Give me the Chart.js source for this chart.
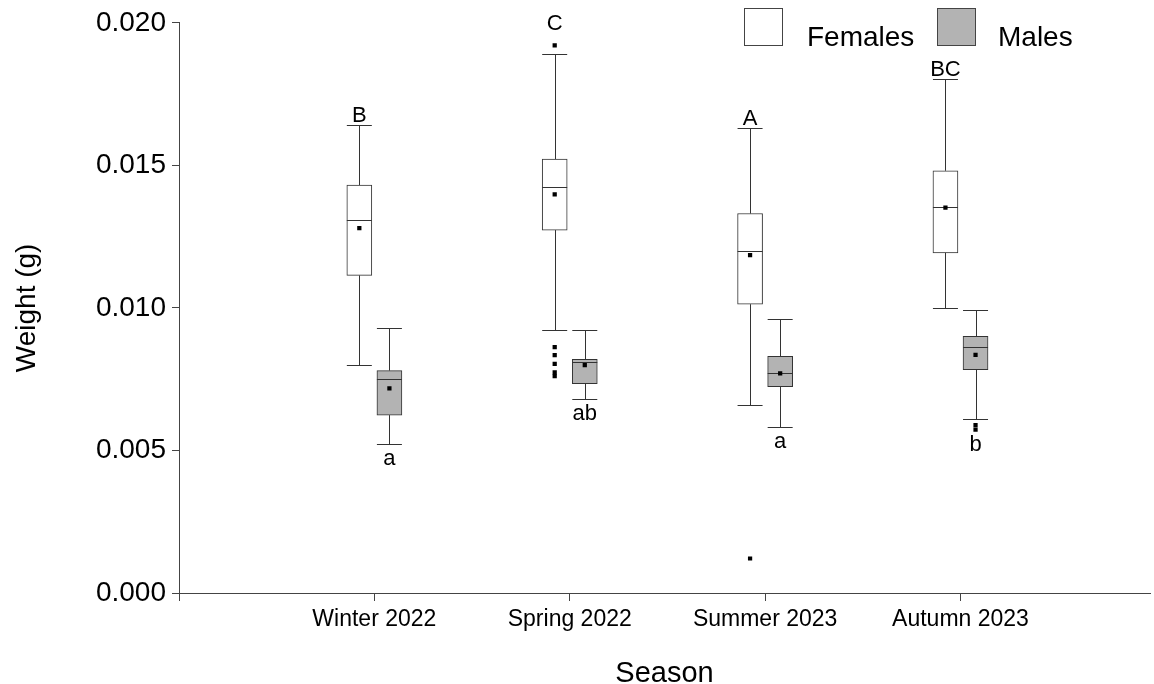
<!DOCTYPE html>
<html>
<head>
<meta charset="utf-8">
<title>Weight by season</title>
<script src="https://cdn.jsdelivr.net/npm/chart.js@4.4.1/dist/chart.umd.min.js"></script>
<style>
    html, body { margin: 0; padding: 0; background: #fff; }
    #wrap { width: 1154px; height: 684px; }
</style>
</head>
<body>
<div id="wrap"><canvas id="weightChart" width="1154" height="684"></canvas></div>
<script>
// --- 1. DATA ---
const seasons = ['Winter 2022', 'Spring 2022', 'Summer 2023', 'Autumn 2023'];

// Females
const femaleMin    = [0.00801, 0.00921, 0.00661, 0.01001];
const femaleQ1     = [0.01114, 0.01273, 0.01013, 0.01193];
const femaleMedian = [0.01307, 0.01423, 0.01201, 0.01355];
const femaleQ3     = [0.01431, 0.01522, 0.01331, 0.01481];
const femaleMax    = [0.01642, 0.01891, 0.01631, 0.01803];
const femaleMean   = [0.01280, 0.01398, 0.01185, 0.01352];
const femaleOutliers = [[], [0.01921, 0.00862, 0.00834, 0.00804, 0.00774, 0.00761], [0.00121], []];
const femaleLetters = ['B', 'C', 'A', 'BC'];

// Males
const maleMin    = [0.00523, 0.00682, 0.00581, 0.00611];
const maleQ1     = [0.00624, 0.00734, 0.00724, 0.00783];
const maleMedian = [0.00752, 0.00811, 0.00770, 0.00862];
const maleQ3     = [0.00780, 0.00820, 0.00830, 0.00900];
const maleMax    = [0.00930, 0.00921, 0.00961, 0.00992];
const maleMean   = [0.00718, 0.00799, 0.00770, 0.00835];
const maleOutliers = [[], [], [], [0.00589, 0.00573]];
const maleLetters = ['a', 'ab', 'a', 'b'];

const yTicks = [0, 0.005, 0.010, 0.015, 0.020];

// --- 2. STYLE ---
const FONT = '"Liberation Sans", Arial, sans-serif';
const LINE = '#333';
const MALE_FILL = '#b3b3b3';
const SHIFT = 0.077; // half gap between the two boxes of a season (x units)

// --- 3. HELPERS ---
function boxBars(q1, q3, dir) {
    return seasons.map((s, i) => ({ x: i + 1 + dir * SHIFT, y: [q1[i], q3[i]] }));
}

function meanPoints(mean, dir) {
    return seasons.map((s, i) => ({ x: i + 1 + dir * SHIFT, y: mean[i] }));
}

function outlierPoints(outs, dir) {
    const pts = [];
    outs.forEach((list, i) => list.forEach(v => pts.push({ x: i + 1 + dir * SHIFT, y: v })));
    return pts;
}

const boxStats = [
    { min: femaleMin, med: femaleMedian, max: femaleMax, outs: femaleOutliers, letters: femaleLetters, above: true },
    { min: maleMin, med: maleMedian, max: maleMax, outs: maleOutliers, letters: maleLetters, above: false }
];

// whiskers, caps and medians drawn right after each box dataset
const whiskerPlugin = {
    id: 'whiskers',
    afterDatasetDraw(chart, args) {
        const stats = boxStats[args.index];
        if (!stats) return;
        const y = chart.scales.y;
        const ctx = chart.ctx;
        ctx.save();
        ctx.strokeStyle = LINE;
        ctx.lineWidth = 1;
        args.meta.data.forEach((bar, i) => {
            const half = bar.width / 2;
            const x = Math.round(bar.x) + 0.5;
            const top = Math.min(bar.y, bar.base);
            const bottom = Math.max(bar.y, bar.base);
            const pMax = Math.round(y.getPixelForValue(stats.max[i])) + 0.5;
            const pMin = Math.round(y.getPixelForValue(stats.min[i])) + 0.5;
            const pMed = Math.round(y.getPixelForValue(stats.med[i])) + 0.5;
            ctx.beginPath();
            ctx.moveTo(x, top); ctx.lineTo(x, pMax);
            ctx.moveTo(x, bottom); ctx.lineTo(x, pMin);
            ctx.moveTo(bar.x - half, pMax); ctx.lineTo(bar.x + half, pMax);
            ctx.moveTo(bar.x - half, pMin); ctx.lineTo(bar.x + half, pMin);
            ctx.moveTo(bar.x - half, pMed); ctx.lineTo(bar.x + half, pMed);
            ctx.stroke();
        });
        ctx.restore();
    }
};

// letters of significance + legend
const annotatePlugin = {
    id: 'annotate',
    afterDraw(chart) {
        const ctx = chart.ctx;
        const y = chart.scales.y;
        ctx.save();
        ctx.fillStyle = '#000';
        ctx.textAlign = 'center';
        ctx.textBaseline = 'alphabetic';
        ctx.font = '22px ' + FONT;
        boxStats.forEach((stats, d) => {
            chart.getDatasetMeta(d).data.forEach((bar, i) => {
                if (stats.above) {
                    const hi = Math.max(stats.max[i], ...stats.outs[i]);
                    const gap = hi > stats.max[i] ? 15 : 3;
                    ctx.fillText(stats.letters[i], bar.x, y.getPixelForValue(hi) - gap);
                } else {
                    const lo = Math.min(stats.min[i], ...stats.outs[i]);
                    ctx.fillText(stats.letters[i], bar.x, y.getPixelForValue(lo) + 21);
                }
            });
        });

        // legend
        const items = [
            { label: 'Females', fill: '#fff', boxX: 744, textX: 807 },
            { label: 'Males', fill: MALE_FILL, boxX: 937, textX: 998 }
        ];
        ctx.font = '28px ' + FONT;
        ctx.textAlign = 'left';
        ctx.strokeStyle = '#444';
        ctx.lineWidth = 1;
        items.forEach(it => {
            ctx.fillStyle = it.fill;
            ctx.fillRect(it.boxX, 8, 39, 38);
            ctx.strokeRect(it.boxX + 0.5, 8.5, 38, 37);
            ctx.fillStyle = '#000';
            ctx.fillText(it.label, it.textX, 46);
        });
        ctx.restore();
    }
};

// --- 4. CHART ---
function initializeWeightChart() {
    const ctx = document.getElementById('weightChart').getContext('2d');

    new Chart(ctx, {
        type: 'bar',
        data: {
            datasets: [
                {
                    label: 'Females',
                    data: boxBars(femaleQ1, femaleQ3, -1),
                    backgroundColor: '#fff',
                    borderColor: LINE,
                    borderWidth: 1,
                    borderSkipped: false,
                    barThickness: 25,
                    grouped: false,
                    order: 2
                },
                {
                    label: 'Males',
                    data: boxBars(maleQ1, maleQ3, 1),
                    backgroundColor: MALE_FILL,
                    borderColor: LINE,
                    borderWidth: 1,
                    borderSkipped: false,
                    barThickness: 25,
                    grouped: false,
                    order: 2
                },
                {
                    type: 'scatter',
                    label: 'Means',
                    data: meanPoints(femaleMean, -1).concat(meanPoints(maleMean, 1)),
                    pointStyle: 'rect',
                    pointRadius: 3,
                    pointBorderWidth: 0,
                    backgroundColor: '#000',
                    order: 0
                },
                {
                    type: 'scatter',
                    label: 'Outliers',
                    data: outlierPoints(femaleOutliers, -1).concat(outlierPoints(maleOutliers, 1)),
                    pointStyle: 'rect',
                    pointRadius: 3,
                    pointBorderWidth: 0,
                    backgroundColor: '#000',
                    order: 0
                }
            ]
        },
        options: {
            responsive: false,
            animation: false,
            layout: { padding: { top: 20, right: 0, bottom: 0, left: 0 } },
            plugins: {
                legend: { display: false },
                tooltip: { enabled: false }
            },
            scales: {
                x: {
                    type: 'linear',
                    min: 0,
                    max: 4.97,
                    offset: false,
                    afterBuildTicks: (scale) => {
                        scale.ticks = [0, 1, 2, 3, 4].map(v => ({ value: v }));
                    },
                    afterFit: (scale) => { scale.height = 91; },
                    ticks: {
                        color: '#000',
                        font: { family: FONT, size: 23 },
                        padding: 5,
                        maxRotation: 0,
                        autoSkip: false,
                        callback: (v) => seasons[v - 1] || ''
                    },
                    grid: {
                        offset: false,
                        drawOnChartArea: false,
                        tickLength: 8,
                        color: '#444'
                    },
                    border: { color: '#444', width: 1 },
                    title: {
                        display: true,
                        text: 'Season',
                        color: '#000',
                        font: { family: FONT, size: 29, lineHeight: 1 },
                        padding: { top: 0, bottom: -4 }
                    }
                },
                y: {
                    min: 0,
                    max: 0.02,
                    afterBuildTicks: (scale) => {
                        scale.ticks = yTicks.map(v => ({ value: v }));
                    },
                    afterFit: (scale) => { scale.width = 179; },
                    ticks: {
                        color: '#000',
                        font: { family: FONT, size: 28 },
                        padding: 6,
                        callback: (v) => v.toFixed(3)
                    },
                    grid: {
                        drawOnChartArea: false,
                        tickLength: 7,
                        color: '#444'
                    },
                    border: { color: '#444', width: 1 },
                    title: {
                        display: true,
                        text: 'Weight (g)',
                        color: '#000',
                        font: { family: FONT, size: 28 },
                        padding: { top: 10, bottom: 0 }
                    }
                }
            }
        },
        plugins: [whiskerPlugin, annotatePlugin]
    });
}

document.addEventListener('DOMContentLoaded', initializeWeightChart);
</script>
</body>
</html>
